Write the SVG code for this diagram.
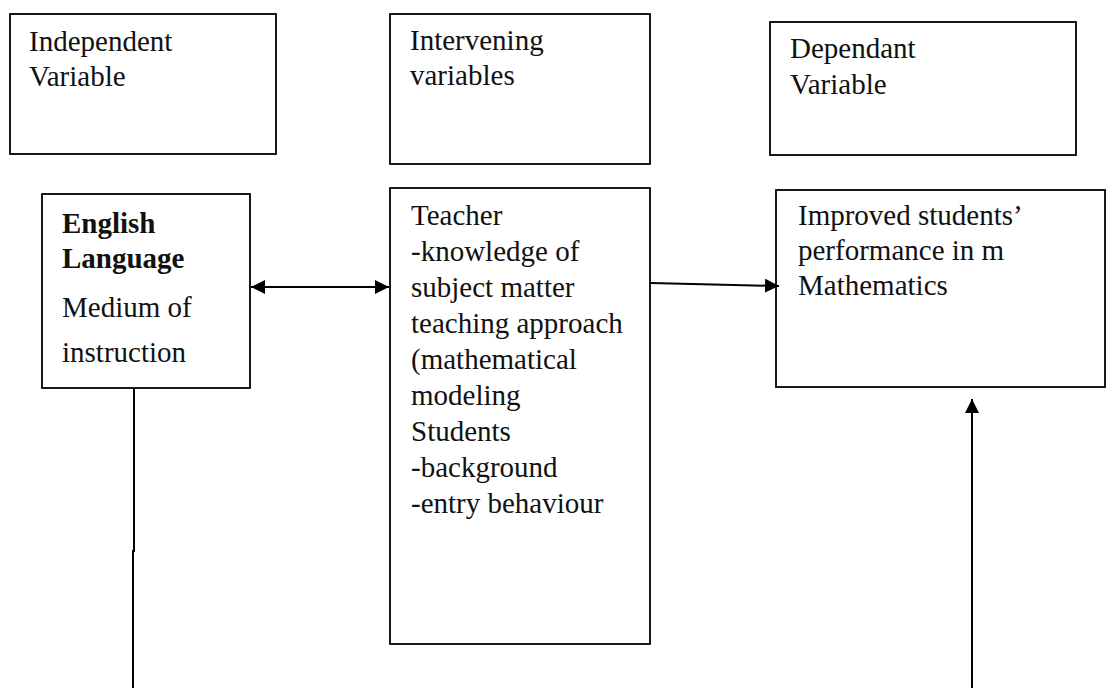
<svg xmlns="http://www.w3.org/2000/svg" width="1107" height="688" viewBox="0 0 1107 688">
<style>
.box{fill:#fff;stroke:#000;stroke-width:1.8}
.t{font-family:"Liberation Serif","Times New Roman",serif;font-size:29px;fill:#111}
.b{font-weight:bold}
.c{stroke:#000;stroke-width:2;fill:none}
</style>
<defs>
<marker id="ah" viewBox="0 0 10 10" refX="10" refY="5" markerWidth="14" markerHeight="14" markerUnits="userSpaceOnUse" orient="auto-start-reverse">
<path d="M0,0 L10,5 L0,10 z" fill="#000"/>
</marker>
</defs>
<rect width="1107" height="688" fill="#fff"/>
<g id="independent-header">
<rect class="box" x="10" y="14" width="266" height="140"/>
<text class="t" x="29" y="51">Independent</text>
<text class="t" x="29" y="86">Variable</text>
</g>
<g id="intervening-header">
<rect class="box" x="390" y="14" width="260" height="150"/>
<text class="t" x="410" y="50">Intervening</text>
<text class="t" x="410" y="85">variables</text>
</g>
<g id="dependent-header">
<rect class="box" x="770" y="22" width="306" height="133"/>
<text class="t" x="790" y="58">Dependant</text>
<text class="t" x="790" y="94">Variable</text>
</g>
<g id="english">
<rect class="box" x="42" y="194" width="208" height="194"/>
<text class="t b" x="62" y="233">English</text>
<text class="t b" x="62" y="268">Language</text>
<text class="t" x="62" y="317">Medium of</text>
<text class="t" x="62" y="362">instruction</text>
</g>
<g id="teacher">
<rect class="box" x="390" y="188" width="260" height="456"/>
<text class="t" x="411" y="225">Teacher</text>
<text class="t" x="411" y="261">-knowledge of</text>
<text class="t" x="411" y="297">subject matter</text>
<text class="t" x="411" y="333">teaching approach</text>
<text class="t" x="411" y="369">(mathematical</text>
<text class="t" x="411" y="405">modeling</text>
<text class="t" x="411" y="441">Students</text>
<text class="t" x="411" y="477">-background</text>
<text class="t" x="411" y="513">-entry behaviour</text>
</g>
<g id="improved">
<rect class="box" x="776" y="190" width="329" height="197"/>
<text class="t" x="798" y="225">Improved students’</text>
<text class="t" x="798" y="260">performance in m</text>
<text class="t" x="798" y="295">Mathematics</text>
</g>
<g id="connectors">
<line class="c" x1="251" y1="287" x2="389" y2="287" marker-start="url(#ah)" marker-end="url(#ah)"/>
<line class="c" x1="651" y1="283" x2="779" y2="286" marker-end="url(#ah)"/>
<polyline class="c" points="134,388 134,551 133,551 133,688"/>
<line class="c" x1="972" y1="688" x2="972" y2="399" marker-end="url(#ah)"/>
</g>
</svg>
